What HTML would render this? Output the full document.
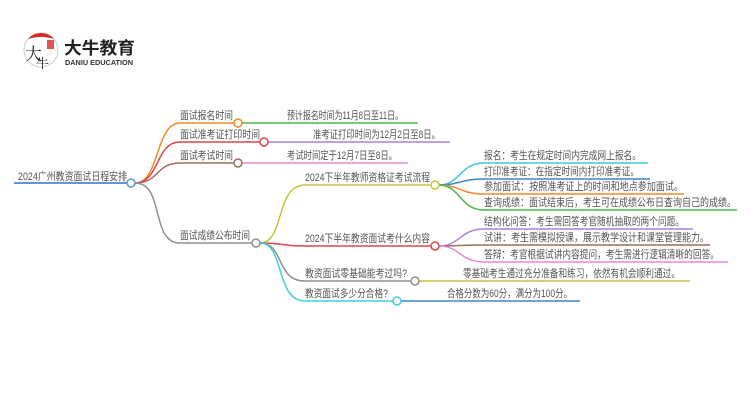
<!DOCTYPE html>
<html><head><meta charset="utf-8"><style>
html,body{margin:0;padding:0;background:#fff;width:750px;height:410px;overflow:hidden}
svg text{font-family:"Liberation Sans","Noto Sans CJK SC",sans-serif;font-size:11px;fill:#555}
</style></head><body>
<svg width="750" height="410" viewBox="0 0 750 410" xmlns="http://www.w3.org/2000/svg">
<!-- logo -->
<circle cx="41" cy="50" r="17" fill="#fff" stroke="#ccc" stroke-width="1"/>
<path d="M28,39 A17,17 0 0 1 54,39 Q41,35 28,39 Z" fill="#d9292b"/>
<rect x="47" y="40" width="7" height="9" fill="#d9292b" opacity="0.8"/>
<text x="25" y="60" style="font-size:17px;fill:#222;font-family:'Noto Serif CJK SC',serif">大</text>
<text x="36" y="68" style="font-size:13px;fill:#222;font-family:'Noto Serif CJK SC',serif">牛</text>
<text x="64" y="54" textLength="71" lengthAdjust="spacingAndGlyphs" style="font-size:17px;font-weight:bold;fill:#222">大牛教育</text>
<text x="65" y="65" textLength="68" lengthAdjust="spacingAndGlyphs" style="font-size:7.5px;fill:#333;font-weight:bold">DANIU EDUCATION</text>
<g fill="none" stroke-width="1.5">
<path d="M14,183 H127" stroke="#5b9bd5" stroke-width="2"/>
<path d="M135,183 C160,183 155,123 180,123 H234" stroke="#f78a24"/>
<path d="M135,183 C160,183 155,142 180,142 H260" stroke="#e0464b"/>
<path d="M135,183 C160,183 155,163 180,163 H234" stroke="#9c6f60"/>
<path d="M135,183 C165,183 150,243 180,243 H252" stroke="#8f8f8f"/>
<path d="M242,123 H418" stroke="#4cb648"/>
<path d="M268,142 H450" stroke="#a883d6"/>
<path d="M242,163 H408" stroke="#e88ad0"/>
<path d="M260,243 C285,243 275,185 305,185 H431" stroke="#c8c43a"/>
<path d="M260,243 C285,243 280,246 305,246 H431" stroke="#e0464b"/>
<path d="M260,243 C285,243 275,281 305,281 H411" stroke="#8f8f8f"/>
<path d="M260,243 C285,243 275,301 305,301 H393" stroke="#3fcfe0"/>
<path d="M439,185 C460,185 460,163 484,163 H648" stroke="#3fc6de"/>
<path d="M439,185 C460,185 460,179 484,179 H650" stroke="#3d87c9"/>
<path d="M439,185 C460,185 460,194 484,194 H684" stroke="#f78a24"/>
<path d="M439,185 C460,185 460,210 484,210 H737" stroke="#4cb648"/>
<path d="M439,246 C460,246 460,229 484,229 H693" stroke="#a883d6"/>
<path d="M439,246 C460,246 460,245 484,245 H710" stroke="#9c6f60"/>
<path d="M439,246 C460,246 460,262 484,262 H728" stroke="#e88ad0"/>
<path d="M419,281 H690" stroke="#c8c43a"/>
<path d="M401,301 H580" stroke="#3d87c9"/>
<circle cx="131" cy="183" r="4" stroke="#5b9bd5" fill="#fff"/>
<circle cx="238" cy="123" r="4" stroke="#f78a24" fill="#fff"/>
<circle cx="264" cy="142" r="4" stroke="#e0464b" fill="#fff"/>
<circle cx="238" cy="163" r="4" stroke="#9c6f60" fill="#fff"/>
<circle cx="256" cy="243" r="4" stroke="#8f8f8f" fill="#fff"/>
<circle cx="435" cy="185" r="4" stroke="#c8c43a" fill="#fff"/>
<circle cx="435" cy="246" r="4" stroke="#e0464b" fill="#fff"/>
<circle cx="415" cy="281" r="4" stroke="#8f8f8f" fill="#fff"/>
<circle cx="397" cy="301" r="4" stroke="#3fcfe0" fill="#fff"/>
</g>
<g style="" >
<text x="18" y="180" textLength="109" lengthAdjust="spacingAndGlyphs">2024广州教资面试日程安排</text>
<text x="180" y="119" textLength="53" lengthAdjust="spacingAndGlyphs">面试报名时间</text>
<text x="180" y="138" textLength="80" lengthAdjust="spacingAndGlyphs">面试准考证打印时间</text>
<text x="180" y="159" textLength="53" lengthAdjust="spacingAndGlyphs">面试考试时间</text>
<text x="180" y="239" textLength="70" lengthAdjust="spacingAndGlyphs">面试成绩公布时间</text>
<text x="287" y="119" textLength="116" lengthAdjust="spacingAndGlyphs">预计报名时间为11月8日至11日。</text>
<text x="313" y="138" textLength="127" lengthAdjust="spacingAndGlyphs">准考证打印时间为12月2日至8日。</text>
<text x="287" y="159" textLength="110" lengthAdjust="spacingAndGlyphs">考试时间定于12月7日至8日。</text>
<text x="305" y="181" textLength="125" lengthAdjust="spacingAndGlyphs">2024下半年教师资格证考试流程</text>
<text x="305" y="242" textLength="125" lengthAdjust="spacingAndGlyphs">2024下半年教资面试考什么内容</text>
<text x="305" y="277" textLength="102" lengthAdjust="spacingAndGlyphs">教资面试零基础能考过吗?</text>
<text x="305" y="297" textLength="83" lengthAdjust="spacingAndGlyphs">教资面试多少分合格?</text>
<text x="484" y="159" textLength="157" lengthAdjust="spacingAndGlyphs">报名：考生在规定时间内完成网上报名。</text>
<text x="484" y="175" textLength="155" lengthAdjust="spacingAndGlyphs">打印准考证：在指定时间内打印准考证。</text>
<text x="484" y="190" textLength="199" lengthAdjust="spacingAndGlyphs">参加面试：按照准考证上的时间和地点参加面试。</text>
<text x="484" y="206" textLength="252" lengthAdjust="spacingAndGlyphs">查询成绩：面试结束后，考生可在成绩公布日查询自己的成绩。</text>
<text x="484" y="225" textLength="200" lengthAdjust="spacingAndGlyphs">结构化问答：考生需回答考官随机抽取的两个问题。</text>
<text x="484" y="241" textLength="225" lengthAdjust="spacingAndGlyphs">试讲：考生需模拟授课，展示教学设计和课堂管理能力。</text>
<text x="484" y="258" textLength="235" lengthAdjust="spacingAndGlyphs">答辩：考官根据试讲内容提问，考生需进行逻辑清晰的回答。</text>
<text x="463" y="277" textLength="217" lengthAdjust="spacingAndGlyphs">零基础考生通过充分准备和练习，依然有机会顺利通过。</text>
<text x="447" y="297" textLength="125" lengthAdjust="spacingAndGlyphs">合格分数为60分，满分为100分。</text>
</g>
</svg>
</body></html>
